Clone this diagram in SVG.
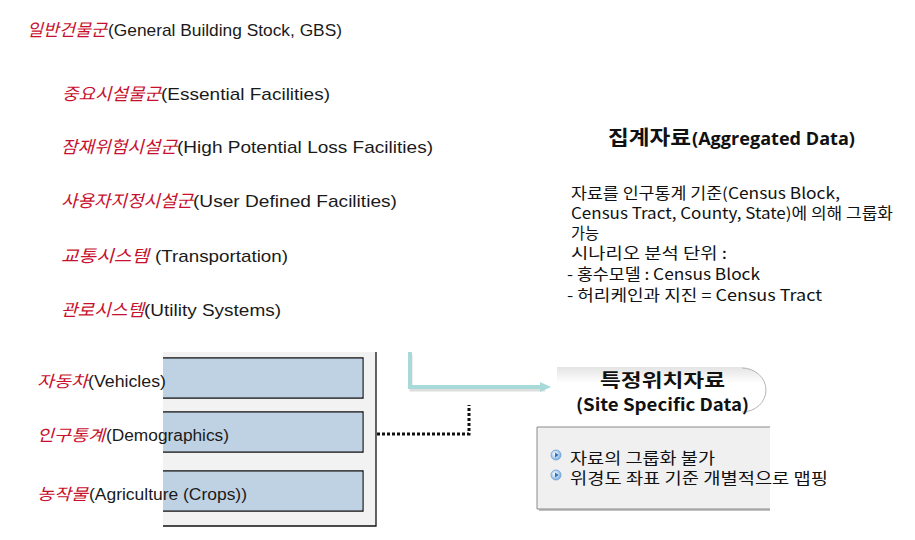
<svg xmlns="http://www.w3.org/2000/svg" width="915" height="540" viewBox="0 0 915 540">
<defs>
<style>
.ko{font-family:"Noto Sans CJK KR",sans-serif;font-style:italic;fill:#c8102e;font-size:17px}
.en{font-family:"Liberation Sans","Noto Sans CJK KR",sans-serif;fill:#1a1a1a;font-size:17px}
.sm{font-size:16px}
.body{font-family:"Noto Sans CJK KR","Noto Sans",sans-serif;font-size:15.5px;fill:#111}
.blue{fill:#bfd2e4;stroke:#111;stroke-width:1.3}
.title{font-family:"Noto Sans CJK KR",sans-serif;font-weight:bold;fill:#111}
</style>
<linearGradient id="pill" x1="0" y1="0" x2="0" y2="1">
<stop offset="0" stop-color="#e4e4e4"/>
<stop offset="0.35" stop-color="#ffffff"/>
<stop offset="1" stop-color="#ffffff"/>
</linearGradient>
<radialGradient id="bul" cx="0.4" cy="0.4" r="0.6">
<stop offset="0" stop-color="#ffffff"/>
<stop offset="1" stop-color="#7fb0e0"/>
</radialGradient>
</defs>
<rect width="915" height="540" fill="#ffffff"/>

<g id="gbs"><text y="36"><tspan class="ko" x="27" textLength="80" lengthAdjust="spacingAndGlyphs">일반건물군</tspan><tspan class="en" x="108" textLength="234" lengthAdjust="spacingAndGlyphs">(General Building Stock, GBS)</tspan></text></g>
<g id="essential"><text y="100"><tspan class="ko" x="62" textLength="99" lengthAdjust="spacingAndGlyphs">중요시설물군</tspan><tspan class="en" x="161" textLength="169" lengthAdjust="spacingAndGlyphs">(Essential Facilities)</tspan></text></g>
<g id="hplf"><text y="153"><tspan class="ko" x="61" textLength="116" lengthAdjust="spacingAndGlyphs">잠재위험시설군</tspan><tspan class="en" x="177" textLength="256" lengthAdjust="spacingAndGlyphs">(High Potential Loss Facilities)</tspan></text></g>
<g id="udf"><text y="207"><tspan class="ko" x="61" textLength="132" lengthAdjust="spacingAndGlyphs">사용자지정시설군</tspan><tspan class="en" x="193" textLength="204" lengthAdjust="spacingAndGlyphs">(User Defined Facilities)</tspan></text></g>
<g id="transport"><text y="262"><tspan class="ko" x="61" textLength="88" lengthAdjust="spacingAndGlyphs">교통시스템</tspan><tspan class="en" x="155" textLength="133" lengthAdjust="spacingAndGlyphs">(Transportation)</tspan></text></g>
<g id="utility"><text y="316"><tspan class="ko" x="61" textLength="83" lengthAdjust="spacingAndGlyphs">관로시스템</tspan><tspan class="en" x="144" textLength="137" lengthAdjust="spacingAndGlyphs">(Utility Systems)</tspan></text></g>

<g id="panel">
<rect x="163" y="352" width="213" height="174" fill="#f2f2f2"/>
<path d="M376,352 V526 H163" fill="none" stroke="#111" stroke-width="1.3"/>
<path d="M163,358 H363 V398 H163" class="blue"/>
<path d="M163,412 H363 V452 H163" class="blue"/>
<path d="M163,471 H363 V511 H163" class="blue"/>
<rect x="163" y="358.7" width="199.3" height="38.6" fill="#bfd2e4"/>
<rect x="163" y="412.7" width="199.3" height="38.6" fill="#bfd2e4"/>
<rect x="163" y="471.7" width="199.3" height="38.6" fill="#bfd2e4"/>
</g>
<g id="vehicles"><text y="387"><tspan class="ko sm" x="37" textLength="51" lengthAdjust="spacingAndGlyphs">자동차</tspan><tspan class="en sm" x="88" textLength="78" lengthAdjust="spacingAndGlyphs">(Vehicles)</tspan></text></g>
<g id="demographics"><text y="441"><tspan class="ko sm" x="37" textLength="68" lengthAdjust="spacingAndGlyphs">인구통계</tspan><tspan class="en sm" x="106" textLength="123" lengthAdjust="spacingAndGlyphs">(Demographics)</tspan></text></g>
<g id="agriculture"><text y="500"><tspan class="ko sm" x="37" textLength="51" lengthAdjust="spacingAndGlyphs">농작물</tspan><tspan class="en sm" x="89" textLength="158" lengthAdjust="spacingAndGlyphs">(Agriculture (Crops))</tspan></text></g>

<g id="aggregated">
<text y="145" class="title"><tspan x="608" font-size="20" textLength="83" lengthAdjust="spacingAndGlyphs">집계자료</tspan><tspan x="692" font-family="'Open Sans','Noto Sans',sans-serif" font-size="17" textLength="163" lengthAdjust="spacingAndGlyphs">(Aggregated Data)</tspan></text>
<text class="body">
<tspan x="571" y="199" textLength="269" lengthAdjust="spacingAndGlyphs">자료를 인구통계 기준(Census Block,</tspan>
<tspan x="571" y="219" textLength="322" lengthAdjust="spacingAndGlyphs">Census Tract, County, State)에 의해 그룹화</tspan>
<tspan x="571" y="239" textLength="28" lengthAdjust="spacingAndGlyphs">가능</tspan>
<tspan x="571" y="259" textLength="156" lengthAdjust="spacingAndGlyphs">시나리오 분석 단위 :</tspan>
<tspan x="567" y="280" textLength="193" lengthAdjust="spacingAndGlyphs">- 홍수모델 : Census Block</tspan>
<tspan x="567" y="301" textLength="255" lengthAdjust="spacingAndGlyphs">- 허리케인과 지진 = Census Tract</tspan>
</text>
</g>

<g id="site">
<path d="M557,367 H740 A25,23 0 0 1 740,413 H557 Z" fill="url(#pill)"/>
<path d="M742,368 A24,22 0 0 1 742,412" fill="none" stroke="#b5b5b5" stroke-width="1"/>
<text x="600" y="387" class="title" font-size="18" textLength="125" lengthAdjust="spacingAndGlyphs">특정위치자료</text>
<text x="576" y="411" class="title" font-family="'Liberation Sans',sans-serif" font-size="17" textLength="173" lengthAdjust="spacingAndGlyphs">(Site Specific Data)</text>
</g>

<g id="site-notes">
<rect x="539" y="429" width="231" height="82" fill="#9a9a9a" opacity="0.6"/>
<rect x="537" y="427" width="233" height="82" fill="#f0f0f1"/>
<path d="M770,427 H537 V509 H770" fill="none" stroke="#8a8a8a" stroke-width="1"/>
<circle cx="556" cy="455" r="5" fill="url(#bul)" stroke="#6aa0d8" stroke-width="0.8"/>
<path d="M555,452.5 L558.5,455 L555,457.5 Z" fill="#2a6fc0"/>
<circle cx="556" cy="475" r="5" fill="url(#bul)" stroke="#6aa0d8" stroke-width="0.8"/>
<path d="M555,472.5 L558.5,475 L555,477.5 Z" fill="#2a6fc0"/>
<text class="body" font-size="16"><tspan x="570" y="464" textLength="145" lengthAdjust="spacingAndGlyphs">자료의 그룹화 불가</tspan><tspan x="570" y="484" textLength="258" lengthAdjust="spacingAndGlyphs">위경도 좌표 기준 개별적으로 맵핑</tspan></text>
</g>

<g id="connectors">
<path d="M411,355 V390 H545" fill="none" stroke="#c8c8c8" stroke-width="3" opacity="0.6"/>
<path d="M410,352 V387 H540" fill="none" stroke="#a9dada" stroke-width="4"/>
<path d="M540,382 L551,387 L540,392 Z" fill="#a9dada"/>
<path d="M377,434 H469 V405" fill="none" stroke="#111" stroke-width="3" stroke-dasharray="3,2"/>
</g>
</svg>
